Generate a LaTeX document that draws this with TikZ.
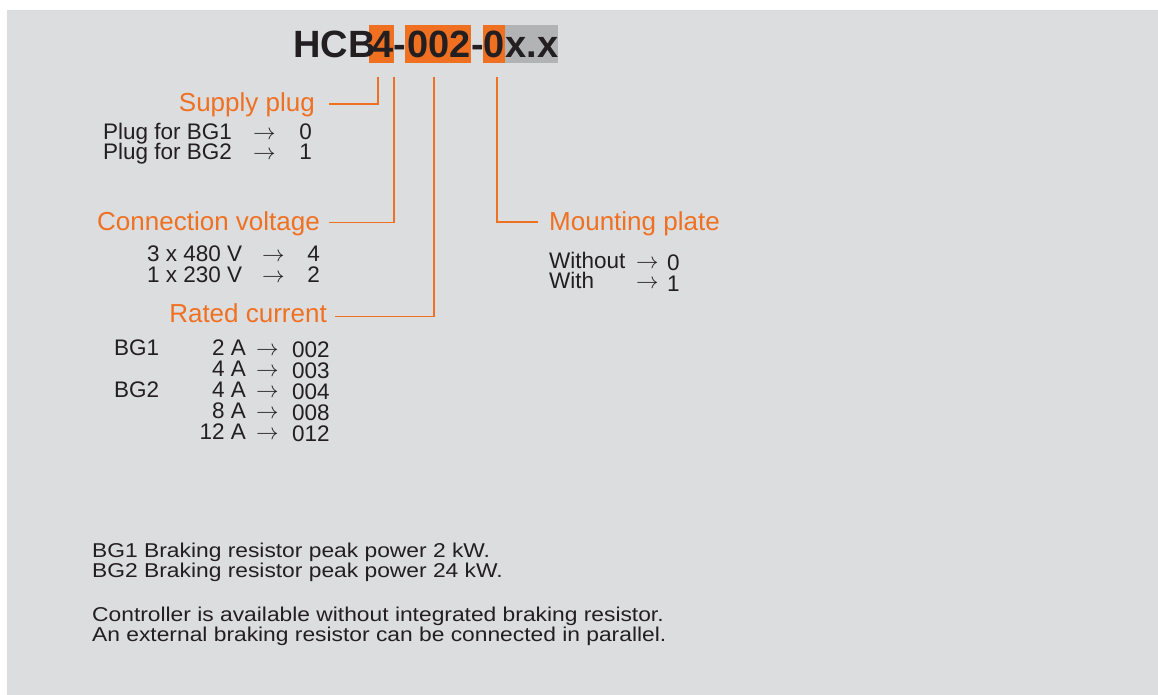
\RequirePackage{fix-cm}
\documentclass[tikz,border=0pt]{standalone}
\usepackage{fontspec}
\setmainfont{Liberation Sans}
\newfontfamily\notefont[FakeStretch=1.14]{Liberation Sans}
\definecolor{bg}{RGB}{220,221,223}
\definecolor{org}{RGB}{240,112,34}
\definecolor{gbox}{RGB}{178,179,181}
\definecolor{ink}{RGB}{35,31,32}
\newcommand{\myarr}{$\rightarrow$}
\begin{document}
\begin{tikzpicture}[x=1pt,y=-1pt,
  every node/.style={inner sep=0pt, text=ink},
  titlepart/.style={font=\fontsize{38}{38}\bfseries\selectfont, anchor=base},
  obox/.style={fill=org, minimum height=38pt, inner sep=0pt},
  gboxst/.style={fill=gbox, minimum height=38pt, inner sep=0pt},
  head/.style={font=\fontsize{26}{26}\selectfont, text=org, text height=19pt, text depth=0pt},
  body/.style={font=\fontsize{22.5}{22.5}\selectfont, anchor=base west, text height=15pt, text depth=3.5pt},
  bodyr/.style={body, anchor=base east},
  note/.style={font=\notefont\fontsize{20}{20}\selectfont, anchor=base west, text height=14pt, text depth=4pt},
  conn/.style={draw=org, line width=1.8pt}
]
\fill[white] (0,0) rectangle (1158,695);
\fill[bg] (7,10) rectangle (1158,695);
\useasboundingbox (0,0) rectangle (1158,695);

% title boxes
\node[obox, minimum width=25pt] (b4) at (381.5,44) {};
\node[obox, minimum width=66pt] (b002) at (438,44) {};
\node[obox, minimum width=22pt] (b0) at (494,44) {};
\node[gboxst, minimum width=53pt] (bxx) at (531.5,44) {};
% title text
\node[titlepart] (tHCB) at (334.5,58) {HCB};
\node[titlepart] (t4) at (383,58) {4};
\node[titlepart] (td1) at (400,58) {-};
\node[titlepart] (t002) at (439,58) {002};
\node[titlepart] (td2) at (477.5,58) {-};
\node[titlepart] (t0) at (494.5,58) {0};
\node[titlepart] (txx) at (532,58) {x.x};

% connector starts
\coordinate (c1) at (378,77);
\coordinate (c2) at (394,77);
\coordinate (c3) at (434,77);
\coordinate (c4) at (497,77);

% headings
\node[head, anchor=base east, inner xsep=14pt] (supply) at (329,112) {Supply plug};
\node[head, anchor=base east, inner xsep=9pt] (volt) at (329,230) {Connection voltage};
\node[head, anchor=base east, inner xsep=8pt] (rated) at (335,322) {Rated current};
\node[head, anchor=base west, inner xsep=11pt] (mount) at (538,230) {Mounting plate};

% connectors
\draw[conn] (c1) |- ([yshift=-1.5pt]supply.east);
\draw[conn] (c2) |- ([yshift=-2pt]volt.east);
\draw[conn] (c3) |- ([yshift=-4pt]rated.east);
\draw[conn] (c4) |- ([yshift=-1.5pt]mount.west);

% supply plug rows
\node[body] (sp1) at (103,140) {Plug for BG1};
\node[body] (sa1) at (253,140) {\myarr};
\node[bodyr] (sc1) at (312,140) {0};
\node[body] (sp2) at (103,160) {Plug for BG2};
\node[body] (sa2) at (253,160) {\myarr};
\node[bodyr] (sc2) at (312,160) {1};

% connection voltage rows
\node[body] (v1) at (147,261) {3 x 480 V};
\node[body] (va1) at (262,261) {\myarr};
\node[bodyr] (vc1) at (320,261) {4};
\node[body] (v2) at (147,282) {1 x 230 V};
\node[body] (va2) at (262,282) {\myarr};
\node[bodyr] (vc2) at (320,282) {2};

% rated current rows
\node[body] (bg1) at (114,355) {BG1};
\node[body] (bg2) at (114,397) {BG2};
\node[bodyr] (r1) at (246,355) {2 A};
\node[bodyr] (r2) at (246,376) {4 A};
\node[bodyr] (r3) at (246,397) {4 A};
\node[bodyr] (r4) at (246,418) {8 A};
\node[bodyr] (r5) at (246,439) {12 A};
\node[body] (ra1) at (256,355) {\myarr};
\node[body] (ra2) at (256,376) {\myarr};
\node[body] (ra3) at (256,397) {\myarr};
\node[body] (ra4) at (256,418) {\myarr};
\node[body] (ra5) at (256,439) {\myarr};
\node[body] (rc1) at (292,357) {002};
\node[body] (rc2) at (292,378) {003};
\node[body] (rc3) at (292,399) {004};
\node[body] (rc4) at (292,420) {008};
\node[body] (rc5) at (292,441) {012};

% mounting plate rows
\node[body] (m1) at (549,268) {Without};
\node[body] (ma1) at (636,268) {\myarr};
\node[body] (mc1) at (667,270) {0};
\node[body] (m2) at (549,288) {With};
\node[body] (ma2) at (636,288) {\myarr};
\node[body] (mc2) at (667,291) {1};

% notes
\node[note] (n1) at (92,557) {BG1 Braking resistor peak power 2 kW.};
\node[note] (n2) at (92,577) {BG2 Braking resistor peak power 24 kW.};
\node[note] (n3) at (92,621) {Controller is available without integrated braking resistor.};
\node[note] (n4) at (92,641) {An external braking resistor can be connected in parallel.};
\end{tikzpicture}
\end{document}
